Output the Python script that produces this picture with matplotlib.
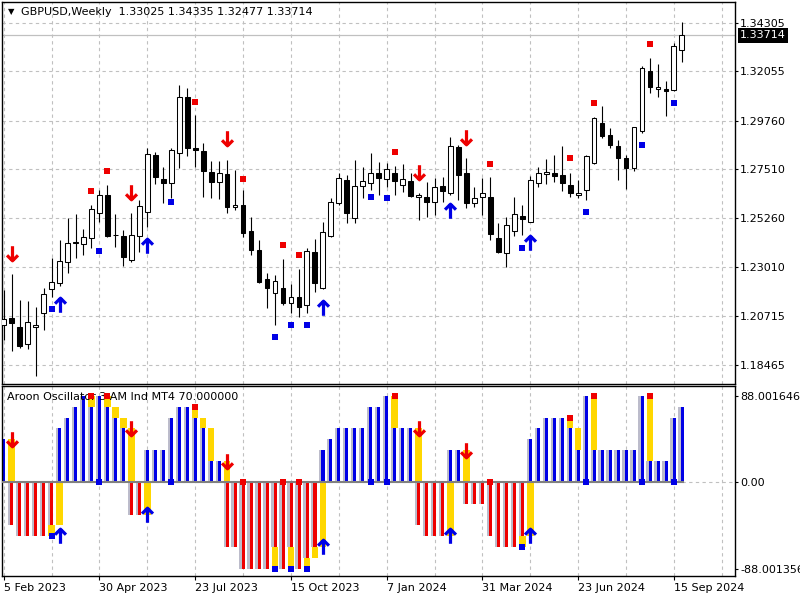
import numpy as np
import matplotlib
matplotlib.use("Agg")
import matplotlib.pyplot as plt
from matplotlib.path import Path

plt.rcParams['font.family'] = ['DejaVu Sans']
plt.rcParams['font.size'] = 8

# GBPUSD weekly candles, week of 5 Feb 2023 .. 22 Sep 2024
opens = [1.2030, 1.2061, 1.2022, 1.1941, 1.2020, 1.2085, 1.2198, 1.2223, 1.2323, 1.2411,
         1.2404, 1.2435, 1.2550, 1.2632, 1.2446, 1.2442, 1.2331, 1.2442, 1.2555, 1.2817,
         1.2705, 1.2689, 1.2825, 1.3087, 1.2848, 1.2837, 1.2740, 1.2691, 1.2730, 1.2575,
         1.2586, 1.2466, 1.2378, 1.2242, 1.2180, 1.2200, 1.2131, 1.2159, 1.2123, 1.2370,
         1.2200, 1.2444, 1.2594, 1.2702, 1.2524, 1.2675, 1.2689, 1.2733, 1.2705, 1.2736,
         1.2677, 1.2697, 1.2622, 1.2622, 1.2598, 1.2675, 1.2643, 1.2856, 1.2733, 1.2594,
         1.2622, 1.2624, 1.2432, 1.2362, 1.2467, 1.2535, 1.2509, 1.2686, 1.2728, 1.2733,
         1.2725, 1.2679, 1.2632, 1.2655, 1.2782, 1.2964, 1.2910, 1.2859, 1.2802, 1.2756,
         1.2930, 1.3208, 1.3122, 1.3122, 1.3118, 1.33025]
highs = [1.2192, 1.2267, 1.2146, 1.2141, 1.2115, 1.2200, 1.2339, 1.2424, 1.2524, 1.2543,
         1.2473, 1.2586, 1.2655, 1.2679, 1.2544, 1.2470, 1.2548, 1.2609, 1.2851, 1.2833,
         1.2763, 1.2851, 1.3142, 1.3126, 1.3003, 1.2872, 1.2790, 1.2790, 1.2794, 1.2748,
         1.2655, 1.2532, 1.2424, 1.2270, 1.2262, 1.2336, 1.2219, 1.2290, 1.2386, 1.2427,
         1.2506, 1.2618, 1.2736, 1.2725, 1.2794, 1.2763, 1.2825, 1.2786, 1.2782, 1.2767,
         1.2776, 1.2736, 1.2640, 1.2694, 1.2710, 1.2717, 1.2899, 1.2864, 1.2802, 1.2671,
         1.2710, 1.2717, 1.2501, 1.2532, 1.2624, 1.2586, 1.2720, 1.2763, 1.2798, 1.2818,
         1.2859, 1.2736, 1.2702, 1.2818, 1.2995, 1.3044, 1.2941, 1.2887, 1.2818, 1.2948,
         1.3230, 1.3265, 1.3237, 1.3161, 1.3337, 1.34335]
lows = [1.1961, 1.1911, 1.1922, 1.1918, 1.1796, 1.2007, 1.2161, 1.2212, 1.2270, 1.2342,
        1.2354, 1.2385, 1.2509, 1.2438, 1.2393, 1.2304, 1.2323, 1.2367, 1.2486, 1.2683,
        1.2595, 1.2618, 1.2756, 1.2813, 1.2762, 1.2623, 1.2618, 1.2614, 1.2548, 1.2563,
        1.2439, 1.2354, 1.2223, 1.2108, 1.2030, 1.2123, 1.2085, 1.2066, 1.2087, 1.2185,
        1.2196, 1.2438, 1.2586, 1.2501, 1.2501, 1.2618, 1.2655, 1.2632, 1.2669, 1.2632,
        1.2648, 1.2624, 1.2517, 1.2532, 1.2540, 1.2601, 1.2632, 1.2609, 1.2571, 1.2578,
        1.2540, 1.2424, 1.2362, 1.2298, 1.2442, 1.2447, 1.2507, 1.2671, 1.2682, 1.2694,
        1.2652, 1.2623, 1.2617, 1.2609, 1.2774, 1.2895, 1.2848, 1.2702, 1.2660, 1.2745,
        1.2921, 1.3106, 1.3087, 1.2999, 1.3115, 1.32477]
closes = [1.2057, 1.2038, 1.1933, 1.2043, 1.2030, 1.2173, 1.2228, 1.2327, 1.2409, 1.2415,
          1.2439, 1.2566, 1.2632, 1.2444, 1.2448, 1.2347, 1.2447, 1.2581, 1.2821, 1.2717,
          1.2689, 1.2841, 1.3087, 1.2851, 1.2842, 1.2745, 1.2694, 1.2734, 1.2578, 1.2586,
          1.2455, 1.2378, 1.2231, 1.2200, 1.2234, 1.2134, 1.2159, 1.2115, 1.2373, 1.2223,
          1.2460, 1.2598, 1.2710, 1.2548, 1.2674, 1.2696, 1.2733, 1.2712, 1.2751, 1.2698,
          1.2705, 1.2628, 1.2632, 1.2601, 1.2671, 1.2652, 1.2859, 1.2725, 1.2594, 1.2617,
          1.2640, 1.2450, 1.2367, 1.2493, 1.2543, 1.2520, 1.2702, 1.2733, 1.2740, 1.2720,
          1.2686, 1.2640, 1.2643, 1.2813, 1.2987, 1.2905, 1.2864, 1.2802, 1.2756, 1.2946,
          1.3219, 1.3131, 1.3131, 1.3115, 1.3322, 1.33714]

# Aroon oscillator values per bar
osc = [44, -44, -55, -55, -55, -55, -44, 55, 66, 77,
       88, 77, 88, 77, 66, 55, -33, -33, 33, 33,
       33, 66, 77, 77, 66, 55, 22, 22, -66, -66,
       -88, -88, -88, -88, -66, -88, -66, -88, -77, -66,
       33, 44, 55, 55, 55, 55, 77, 77, 88, 55,
       55, 55, -44, -55, -55, -55, 33, 33, -22, -22,
       -22, -55, -66, -66, -66, -55, 44, 55, 66, 66,
       66, 55, 33, 88, 33, 33, 33, 33, 33, 33,
       88, 22, 22, 22, 66, 77]

# signals on the price chart
red_sq_bars = [11, 13, 24, 30, 35, 37, 49, 61, 71, 74, 81]
red_sq_price = [1.2651, 1.2743, 1.3063, 1.2706, 1.2401, 1.2355, 1.2831, 1.2776, 1.2804, 1.3058, 1.3331]
blue_sq_bars = [6, 12, 21, 34, 36, 38, 46, 48, 65, 73, 80, 84]
blue_sq_price = [1.2104, 1.2373, 1.2600, 1.1975, 1.2030, 1.2030, 1.2623, 1.2618, 1.2387, 1.2554, 1.2864, 1.3058]
dn_arrow_bars = [1, 16, 28, 52, 58]
dn_arrow_price = [1.2366, 1.2646, 1.2894, 1.2739, 1.2901]
up_arrow_bars = [7, 18, 40, 56, 66]
up_arrow_price = [1.2125, 1.2396, 1.2107, 1.2556, 1.2412]

# signals on the oscillator
osc_red_sq_bars = [11, 13, 24, 30, 35, 37, 49, 61, 71, 74, 81]
osc_red_sq_val = [88, 88, 77, 0, 0, 0, 88, 0, 66, 88, 88]
osc_blue_sq_bars = [6, 12, 21, 34, 36, 38, 46, 48, 65, 73, 80, 84]
osc_blue_sq_val = [-55, 0, 0, -88, -88, -88, 0, 0, -66, 0, 0, 0]
osc_dn_bars = [1, 16, 28, 52, 58]
osc_dn_val = [44, 55, 22, 55, 33]
osc_up_bars = [7, 18, 40, 56, 66]
osc_up_val = [-55, -33, -66, -55, -55]

price_ticks = [1.34305, 1.32055, 1.29760, 1.27510, 1.25260, 1.23010, 1.20715, 1.18465]
osc_ticks = [88.001646, 0.0, -88.001356]
osc_tick_labels = ["88.001646", "0.00", "-88.001356"]
date_bars = [0, 12, 24, 36, 48, 60, 72, 84]
date_labels = ["5 Feb 2023", "30 Apr 2023", "23 Jul 2023", "15 Oct 2023",
               "7 Jan 2024", "31 Mar 2024", "23 Jun 2024", "15 Sep 2024"]
last_price = 1.33714

RED = '#ee0000'
BLUE = '#0000e6'
YELLOW = '#ffd700'
GRID = '#c0c0c0'

up_arrow = Path([(0, -1), (0, 1), (-0.75, 0.25), (0, 1), (0.75, 0.25)],
                [Path.MOVETO, Path.LINETO, Path.MOVETO, Path.LINETO, Path.LINETO])
down_arrow = Path([(0, 1), (0, -1), (-0.75, -0.25), (0, -1), (0.75, -0.25)],
                  [Path.MOVETO, Path.LINETO, Path.MOVETO, Path.LINETO, Path.LINETO])

fig = plt.figure(figsize=(8, 6), dpi=100)
ax = fig.add_axes([0.0025, 0.3608, 0.9159, 0.6358])
ax2 = fig.add_axes([0.0025, 0.0392, 0.9159, 0.3175], sharex=ax)

x = np.arange(len(closes))
o = np.array(opens)
c = np.array(closes)
h = np.array(highs)
l = np.array(lows)
xmin, xmax = -0.2125, 91.625

# grid
for a in (ax, ax2):
    for gx in range(0, 92, 6):
        a.axvline(gx, color=GRID, lw=0.8, ls=(0, (3, 3)), zorder=0)
for p in price_ticks:
    ax.axhline(p, color=GRID, lw=0.8, ls=(0, (3, 3)), zorder=0)
ax2.axhline(0, color=GRID, lw=0.8, ls=(0, (3, 3)), zorder=0)
ax.axhline(last_price, color='#c0c0c0', lw=0.9, zorder=1)

# candles
bull = c >= o
body_lo = np.minimum(o, c)
body_h = np.abs(c - o)
ax.vlines(x, l, h, color='black', lw=0.8, zorder=2)
ax.bar(x[bull], body_h[bull], 0.6, bottom=body_lo[bull], facecolor='white',
       edgecolor='black', lw=0.75, zorder=3)
ax.bar(x[~bull], body_h[~bull], 0.6, bottom=body_lo[~bull], facecolor='black',
       edgecolor='black', lw=0.75, zorder=3)

ax.plot(red_sq_bars, red_sq_price, 's', color=RED, ms=4, mew=0, zorder=4)
ax.plot(blue_sq_bars, blue_sq_price, 's', color=BLUE, ms=4, mew=0, zorder=4)
ax.plot(dn_arrow_bars, dn_arrow_price, ls='none', marker=down_arrow, ms=10.5,
        mew=2.3, mec=RED, mfc='none', zorder=5)
ax.plot(up_arrow_bars, up_arrow_price, ls='none', marker=up_arrow, ms=10.5,
        mew=2.3, mec=BLUE, mfc='none', zorder=5)

ax.set_xlim(xmin, xmax)
ax.set_ylim(1.17595, 1.35258)
ax.yaxis.tick_right()
ax.set_yticks(price_ticks)
ax.set_yticklabels([f"{p:.5f}" for p in price_ticks])
ax.tick_params(axis='y', length=2.5, width=0.8, pad=1.5, colors='black')
ax.tick_params(axis='x', bottom=False, labelbottom=False)

ax.annotate(f"{last_price:.5f}", xy=(1, last_price), xycoords=ax.get_yaxis_transform(),
            xytext=(4, 0), textcoords='offset points', va='center', ha='left',
            color='white', bbox=dict(boxstyle='square,pad=0.2', fc='black', ec='none'),
            annotation_clip=False, zorder=6)

# oscillator histogram
v = np.array(osc, dtype=float)
ax2.bar(x - 0.15, v, 0.6, color='#bcbccb', zorder=1)
ax2.bar(x[v > 0] + 0.02, v[v > 0], 0.38, color=BLUE, zorder=2)
ax2.bar(x[v < 0] + 0.02, v[v < 0], 0.38, color=RED, zorder=2)

# yellow: retreat toward zero compared with the previous bar
for i in range(1, len(v)):
    prev, cur = v[i - 1], v[i]
    if prev * cur < 0:
        lo, hi = min(0, prev), max(0, prev)
    elif abs(cur) < abs(prev):
        lo, hi = min(cur, prev), max(cur, prev)
    else:
        continue
    ax2.bar(i, hi - lo, 0.82, bottom=lo, color=YELLOW, zorder=2)

ax2.plot([xmin, len(v) - 0.85], [0, 0], color='#808080', lw=1.5, zorder=3)

ax2.plot(osc_red_sq_bars, osc_red_sq_val, 's', color=RED, ms=4, mew=0, zorder=6)
ax2.plot(osc_blue_sq_bars, osc_blue_sq_val, 's', color=BLUE, ms=4, mew=0, zorder=6)
ax2.plot(osc_dn_bars, osc_dn_val, ls='none', marker=down_arrow, ms=10.5,
         mew=2.3, mec=RED, mfc='none', zorder=7)
ax2.plot(osc_up_bars, osc_up_val, ls='none', marker=up_arrow, ms=10.5,
         mew=2.3, mec=BLUE, mfc='none', zorder=7)

ax2.set_ylim(-96.05, 98.2)
ax2.yaxis.tick_right()
ax2.set_yticks(osc_ticks)
ax2.set_yticklabels(osc_tick_labels)
ax2.tick_params(axis='y', length=2.5, width=0.8, pad=1.5, colors='black')
ax2.set_xticks(date_bars)
ax2.set_xticklabels(date_labels, ha='left')
ax2.tick_params(axis='x', length=3, width=0.8, pad=1.5, colors='black')

for a in (ax, ax2):
    for s in a.spines.values():
        s.set_linewidth(1.0)
        s.set_color('black')

fig.text(8 / 800, 1 - 12 / 600, "\u25bc", fontsize=6, va='center', ha='left')
fig.text(21 / 800, 1 - 12 / 600, "GBPUSD,Weekly  1.33025 1.34335 1.32477 1.33714",
         va='center', ha='left')
ax2.text(7 / 800, 1 - 397.5 / 600, "Aroon Oscillator 3 AM Ind MT4 70.000000",
         transform=fig.transFigure, va='center', ha='left', zorder=5)

fig.savefig("out.png", dpi=100, facecolor='white')
